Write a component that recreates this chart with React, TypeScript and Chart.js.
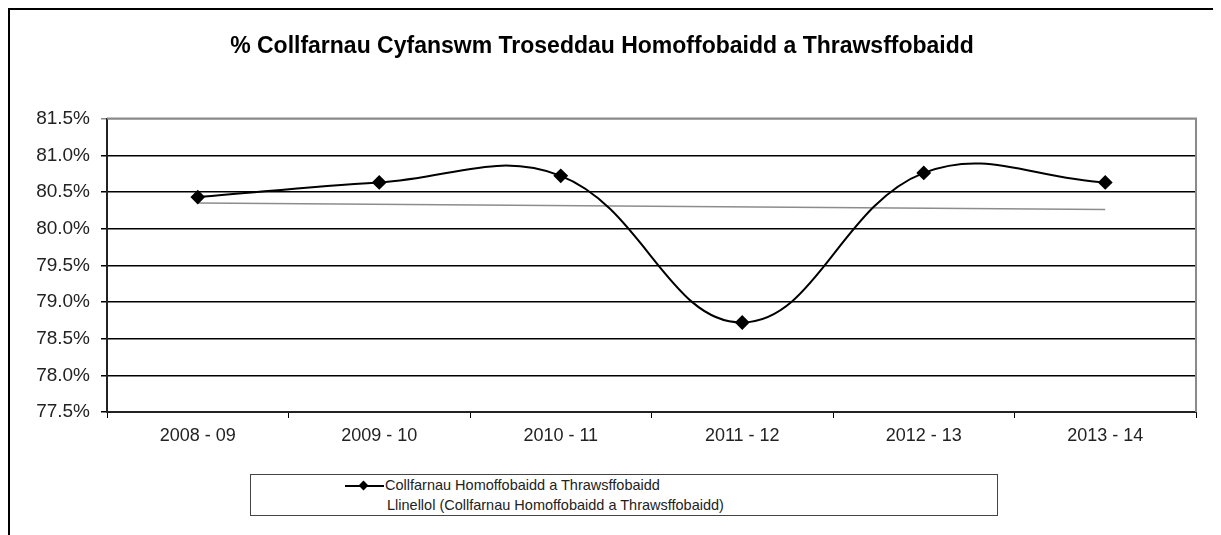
import React, { useEffect, useRef } from "react";
import { Chart, registerables } from "chart.js";

Chart.register(...registerables);

const categories = ["2008 - 09", "2009 - 10", "2010 - 11", "2011 - 12", "2012 - 13", "2013 - 14"];
const convictionRates = [80.43, 80.63, 80.72, 78.72, 80.76, 80.63];
const trendRates = [80.35, null, null, null, null, 80.26];
const seriesName = "Collfarnau Homoffobaidd a Thrawsffobaidd";
const trendName = "Llinellol (Collfarnau Homoffobaidd a Thrawsffobaidd)";
const chartTitle = "% Collfarnau Cyfanswm Troseddau Homoffobaidd a Thrawsffobaidd";
const yMin = 77.5;
const yMax = 81.5;
const yStep = 0.5;

const FONT = "'Liberation Sans', Arial, sans-serif";

const plotBorder = {
  id: "plotBorder",
  afterDatasetsDraw(chart: any) {
    const { ctx, chartArea } = chart;
    ctx.save();
    ctx.strokeStyle = "#8a8a8a";
    ctx.lineWidth = 2;
    ctx.beginPath();
    ctx.moveTo(chartArea.left, chartArea.top);
    ctx.lineTo(chartArea.right, chartArea.top);
    ctx.lineTo(chartArea.right, chartArea.bottom);
    ctx.stroke();
    ctx.restore();
  },
};

export default function App() {
  const ref = useRef<HTMLCanvasElement | null>(null);
  useEffect(() => {
    if (!ref.current) return;
    const chart = new Chart(ref.current, {
      type: "line",
      data: {
        labels: categories,
        datasets: [
          {
            label: seriesName,
            data: convictionRates,
            borderColor: "#000",
            backgroundColor: "#000",
            borderWidth: 2,
            tension: 0.4,
            pointStyle: "rectRot",
            pointRadius: 6,
            pointBackgroundColor: "#000",
            pointBorderColor: "#000",
          },
          {
            label: trendName,
            data: trendRates as any,
            borderColor: "#8c8c8c",
            borderWidth: 1.5,
            pointRadius: 0,
            spanGaps: true,
            tension: 0,
          },
        ],
      },
      options: {
        animation: false,
        responsive: false,
        maintainAspectRatio: false,
        layout: { padding: { left: 0, right: 25, top: 0, bottom: 80 } },
        plugins: {
          legend: { display: false },
          tooltip: { enabled: false },
          title: {
            display: true,
            text: chartTitle,
            color: "#000",
            font: { family: FONT, size: 23, weight: "bold" },
            padding: { top: 25, bottom: 58 },
          },
        },
        scales: {
          x: {
            offset: true,
            grid: {
              offset: true,
              drawOnChartArea: false,
              drawTicks: true,
              tickLength: 6,
              color: "#000",
            },
            border: { color: "#222", width: 2 },
            ticks: {
              color: "#222",
              font: { family: FONT, size: 18 },
              padding: 7,
              maxRotation: 0,
            },
            afterFit(scale: any) {
              scale.height = 43;
            },
          },
          y: {
            min: yMin,
            max: yMax,
            grid: {
              color: (c: any) => (c.tick && c.tick.value === yMax ? "#8a8a8a" : "#000"),
              lineWidth: 1.5,
              tickLength: 6,
            },
            border: { color: "#222", width: 2 },
            ticks: {
              stepSize: yStep,
              color: "#222",
              font: { family: FONT, size: 19 },
              padding: 11,
              callback: (v: any) => Number(v).toFixed(1) + "%",
            },
            afterFit(scale: any) {
              scale.width = 99;
            },
          },
        },
      },
      plugins: [plotBorder],
    });
    return () => chart.destroy();
  }, []);

  return (
    <div style={{ position: "relative", width: 1213, height: 527 }}>
      <div
        style={{
          position: "absolute",
          left: 0,
          top: 0,
          width: 1213,
          height: 527,
          boxSizing: "border-box",
          borderLeft: "2px solid #000",
          borderTop: "2px solid #000",
        }}
      />
      <canvas
        ref={ref}
        width={1213}
        height={527}
        style={{ position: "absolute", left: 0, top: 0, width: 1213, height: 527 }}
      />
      <div
        style={{
          position: "absolute",
          left: 242,
          top: 466,
          width: 748,
          height: 42,
          boxSizing: "border-box",
          border: "1.5px solid #444",
          background: "#fff",
          fontFamily: FONT,
          fontSize: 14.5,
          color: "#222",
        }}
      >
        <div style={{ position: "absolute", left: 94, top: 10, width: 39, height: 2, background: "#000" }} />
        <div
          style={{
            position: "absolute",
            left: 109,
            top: 7,
            width: 7,
            height: 7,
            background: "#000",
            transform: "rotate(45deg)",
          }}
        />
        <div style={{ position: "absolute", left: 134, top: 1, lineHeight: "19px", whiteSpace: "nowrap" }}>
          {seriesName}
        </div>
        <div style={{ position: "absolute", left: 136, top: 21, lineHeight: "19px", whiteSpace: "nowrap" }}>
          {trendName}
        </div>
      </div>
    </div>
  );
}
